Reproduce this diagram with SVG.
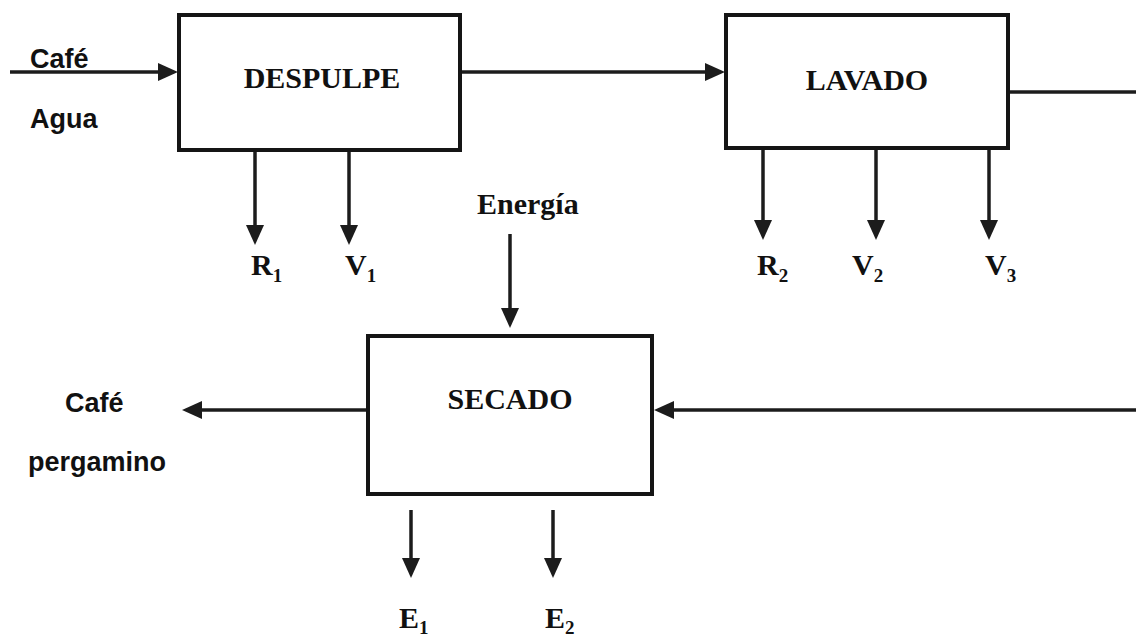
<svg xmlns="http://www.w3.org/2000/svg" width="1136" height="643" viewBox="0 0 1136 643">
<style>
.box{fill:#fff;stroke:#151515;stroke-width:4}
.ln{stroke:#1c1c1c;stroke-width:3.5;fill:none}
.ar{marker-end:url(#ah)}
.pt{font-family:"Liberation Serif","Times New Roman",serif;font-weight:bold;font-size:30px;fill:#111}
.lb{font-family:"Liberation Serif","Times New Roman",serif;font-weight:bold;font-size:30px;fill:#111}
.sub{font-size:19px}
.sn{font-family:"Liberation Sans",Arial,sans-serif;font-weight:bold;font-size:27px;fill:#111}
</style>
<defs>
<marker id="ah" markerUnits="userSpaceOnUse" markerWidth="20" markerHeight="18" viewBox="0 0 20 18" refX="12" refY="9" orient="auto">
<path d="M0,0 L20,9 L0,18 z" fill="#1c1c1c"/>
</marker>
</defs>
<rect width="1136" height="643" fill="#fff"/>
<g id="connectors">
<line class="ln ar" x1="10" y1="72" x2="170" y2="72"/>
<line class="ln ar" x1="460" y1="72" x2="717" y2="72"/>
<line class="ln" x1="1008" y1="92" x2="1136" y2="92"/>
<line class="ln ar" x1="255" y1="150" x2="255" y2="237"/>
<line class="ln ar" x1="349" y1="150" x2="349" y2="237"/>
<line class="ln ar" x1="763" y1="148" x2="763" y2="232"/>
<line class="ln ar" x1="876" y1="148" x2="876" y2="232"/>
<line class="ln ar" x1="989" y1="148" x2="989" y2="232"/>
<line class="ln ar" x1="510" y1="234" x2="510" y2="320"/>
<line class="ln ar" x1="367" y1="410" x2="190" y2="410"/>
<line class="ln ar" x1="1136" y1="410" x2="662" y2="410"/>
<line class="ln ar" x1="411" y1="510" x2="411" y2="570"/>
<line class="ln ar" x1="553" y1="510" x2="553" y2="570"/>
</g>
<g id="despulpe">
<rect class="box" x="179" y="15" width="281" height="135"/>
<text class="pt" x="322" y="88" text-anchor="middle">DESPULPE</text>
</g>
<g id="lavado">
<rect class="box" x="726" y="15" width="282" height="133"/>
<text class="pt" x="867" y="90" text-anchor="middle">LAVADO</text>
</g>
<g id="secado">
<rect class="box" x="368" y="336" width="284" height="158"/>
<text class="pt" x="510" y="409" text-anchor="middle">SECADO</text>
</g>
<g id="labels">
<text class="sn" x="30" y="68">Café</text>
<text class="sn" x="30" y="128">Agua</text>
<text class="sn" x="65" y="412">Café</text>
<text class="sn" x="28" y="471">pergamino</text>
<text class="lb" x="477" y="214">Energía</text>
<text class="lb" x="251" y="275">R<tspan class="sub" dy="7">1</tspan></text>
<text class="lb" x="345" y="275">V<tspan class="sub" dy="7">1</tspan></text>
<text class="lb" x="757" y="275">R<tspan class="sub" dy="7">2</tspan></text>
<text class="lb" x="852" y="275">V<tspan class="sub" dy="7">2</tspan></text>
<text class="lb" x="985" y="275">V<tspan class="sub" dy="7">3</tspan></text>
<text class="lb" x="399" y="628">E<tspan class="sub" dy="6">1</tspan></text>
<text class="lb" x="545" y="628">E<tspan class="sub" dy="6">2</tspan></text>
</g>
</svg>
